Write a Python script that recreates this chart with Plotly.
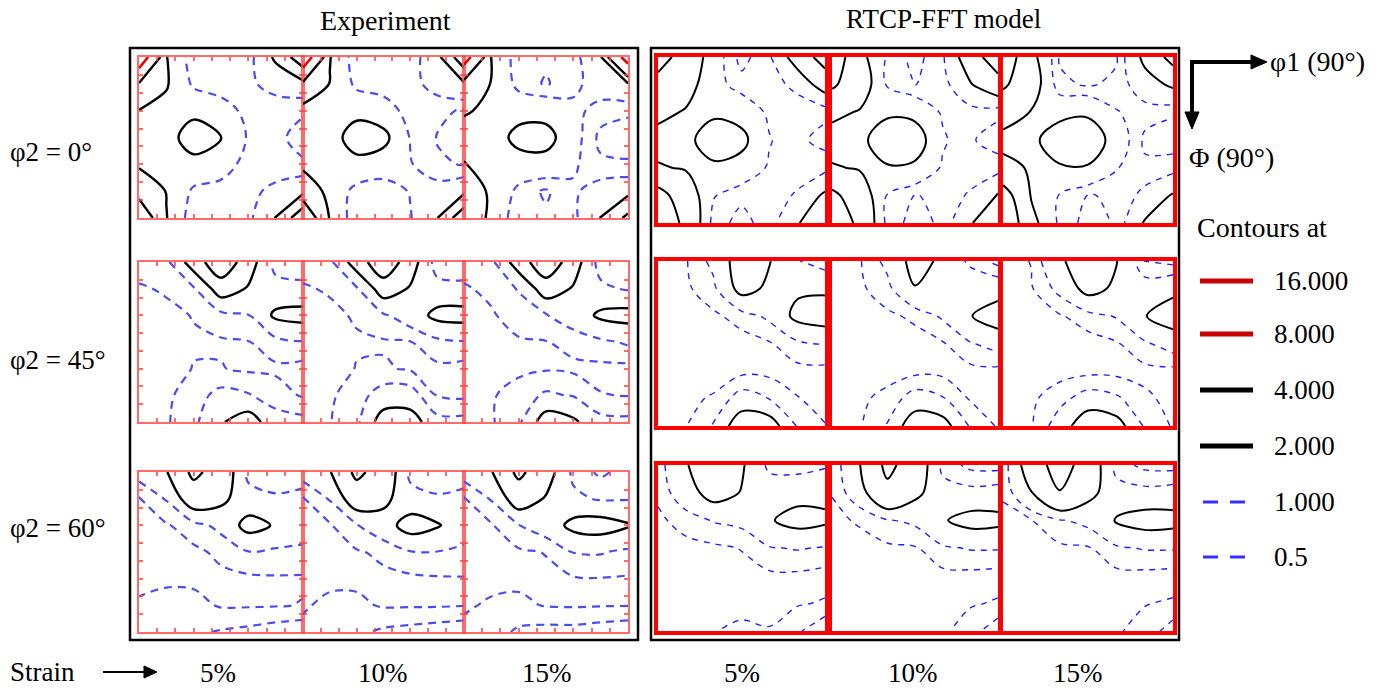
import plotly.graph_objects as go

W, H = 1396, 688

# ---------------- data ----------------
PHI1_DEG = [0, 15, 30, 45, 60, 75, 90]   # horizontal axis of each ODF section
PHI_DEG = [0, 15, 30, 45, 60, 75, 90]    # vertical axis (downwards)
STRAIN_LABELS = ["5%", "10%", "15%"]
ROW_LABELS = ["φ2 = 0°", "φ2 = 45°", "φ2 = 60°"]
COLUMN_TITLES = ["Experiment", "RTCP-FFT model"]
AXIS_LABELS = ["φ1 (90°)", "Φ (90°)"]
CONTOUR_LEVEL_LABELS = ["16.000", "8.000", "4.000", "2.000", "1.000", "0.5"]

# ODF intensity read from the sections (rows = Phi 0..90, cols = phi1 0..90)
EXP_PHI2_0_S5 = [
    [11.0, 2.05, 0.55, 0.6, 0.7, 2.2, 5.5],
    [3.8, 2.1, 0.85, 0.6, 0.85, 1.3, 1.5],
    [1.95, 1.7, 1.75, 1.4, 0.75, 0.6, 0.55],
    [1.6, 1.6, 2.5, 2.05, 0.9, 0.6, 0.35],
    [1.8, 1.6, 1.7, 1.4, 0.7, 0.6, 0.55],
    [3.2, 1.95, 0.85, 0.7, 0.8, 1.2, 1.6],
    [6.0, 2.05, 0.5, 0.6, 0.8, 2.05, 5.5]]
EXP_PHI2_0_S10 = [
    [11.0, 2.05, 0.55, 0.65, 0.7, 1.5, 5.5],
    [3.5, 1.95, 0.8, 0.65, 0.75, 1.3, 1.8],
    [1.5, 1.5, 1.7, 1.4, 0.7, 0.6, 0.45],
    [1.4, 1.55, 2.5, 2.3, 0.95, 0.48, 0.35],
    [1.7, 1.5, 1.7, 1.5, 1.05, 0.55, 0.48],
    [3.0, 1.6, 0.75, 0.6, 1.05, 1.3, 1.6],
    [6.0, 1.9, 0.5, 0.55, 0.95, 1.95, 5.5]]
EXP_PHI2_0_S15 = [
    [10.0, 1.95, 0.6, 0.6, 0.7, 1.9, 10.0],
    [3.0, 1.95, 0.75, 0.45, 0.8, 1.4, 1.9],
    [2.1, 1.8, 1.65, 1.6, 1.2, 0.75, 0.57],
    [1.6, 1.5, 2.3, 2.4, 1.3, 0.35, 0.3],
    [2.05, 1.6, 1.6, 1.6, 1.1, 0.6, 0.55],
    [2.8, 1.8, 0.8, 0.42, 0.9, 1.3, 1.5],
    [3.5, 1.6, 0.6, 0.6, 0.8, 2.05, 4.5]]

EXP_PHI2_45_S5 = [
    [0.7, 0.8, 2.6, 6.0, 2.6, 0.7, 0.6],
    [0.45, 0.55, 0.9, 2.6, 1.9, 1.3, 1.2],
    [0.35, 0.4, 0.52, 0.75, 0.97, 2.2, 2.4],
    [0.3, 0.3, 0.45, 0.45, 0.48, 0.75, 0.95],
    [0.3, 0.3, 0.52, 0.52, 0.42, 0.42, 0.3],
    [0.3, 0.4, 0.75, 1.2, 1.05, 0.7, 0.45],
    [0.3, 0.45, 0.8, 1.9, 2.6, 1.3, 1.2]]
EXP_PHI2_45_S10 = [
    [0.7, 0.8, 2.6, 6.0, 2.6, 0.6, 0.55],
    [0.45, 0.55, 0.9, 2.6, 1.9, 1.3, 1.2],
    [0.35, 0.4, 0.55, 0.9, 1.4, 2.3, 2.4],
    [0.3, 0.3, 0.45, 0.45, 0.48, 0.8, 0.95],
    [0.3, 0.3, 0.52, 0.55, 0.45, 0.4, 0.3],
    [0.3, 0.42, 0.75, 1.3, 1.3, 0.48, 0.4],
    [0.3, 0.48, 0.8, 2.6, 2.6, 1.2, 1.2]]
EXP_PHI2_45_S15 = [
    [0.7, 0.8, 2.6, 6.0, 2.6, 0.6, 0.5],
    [0.45, 0.6, 1.05, 2.6, 1.9, 1.2, 0.9],
    [0.35, 0.45, 0.7, 0.95, 1.4, 2.2, 2.4],
    [0.3, 0.3, 0.45, 0.48, 0.65, 0.85, 1.1],
    [0.3, 0.3, 0.4, 0.45, 0.4, 0.38, 0.35],
    [0.3, 0.45, 0.7, 1.1, 0.95, 0.52, 0.48],
    [0.3, 0.45, 0.85, 2.6, 2.2, 1.2, 1.15]]

EXP_PHI2_60_S5 = [
    [1.3, 1.9, 4.5, 3.0, 0.8, 0.6, 0.7],
    [0.45, 1.05, 2.8, 2.3, 1.3, 1.1, 1.2],
    [0.35, 0.45, 0.75, 1.2, 2.4, 1.9, 1.5],
    [0.3, 0.3, 0.4, 0.6, 0.97, 0.85, 0.8],
    [0.4, 0.4, 0.4, 0.4, 0.4, 0.45, 0.45],
    [0.55, 0.7, 0.65, 0.45, 0.45, 0.47, 0.52],
    [0.7, 0.8, 0.9, 1.05, 1.15, 1.3, 1.4]]
EXP_PHI2_60_S10 = [
    [1.3, 1.9, 4.5, 3.0, 0.8, 0.55, 0.7],
    [0.45, 1.05, 2.8, 2.3, 1.3, 1.1, 1.2],
    [0.35, 0.45, 0.95, 1.5, 2.5, 2.1, 1.4],
    [0.3, 0.3, 0.45, 0.6, 0.95, 0.98, 0.85],
    [0.4, 0.4, 0.4, 0.4, 0.4, 0.45, 0.47],
    [0.45, 0.6, 0.6, 0.45, 0.45, 0.45, 0.48],
    [0.6, 0.8, 0.9, 1.1, 1.2, 1.3, 1.4]]
EXP_PHI2_60_S15 = [
    [1.3, 1.9, 4.5, 2.6, 0.8, 0.4, 0.7],
    [0.45, 1.05, 2.7, 1.9, 1.2, 0.9, 0.95],
    [0.35, 0.45, 0.97, 1.4, 2.3, 2.5, 2.1],
    [0.3, 0.3, 0.42, 0.52, 1.02, 1.05, 0.85],
    [0.35, 0.4, 0.4, 0.4, 0.45, 0.48, 0.45],
    [0.45, 0.55, 0.6, 0.47, 0.45, 0.47, 0.48],
    [0.6, 0.75, 1.1, 1.2, 1.2, 1.3, 1.4]]

MOD_PHI2_0_S5 = [
    [5.0, 3.0, 1.4, 0.3, 0.9, 2.6, 5.0],
    [3.2, 2.5, 1.3, 0.7, 0.7, 1.2, 2.6],
    [2.3, 1.9, 1.8, 1.6, 0.85, 0.6, 0.6],
    [1.6, 1.7, 2.6, 2.3, 1.05, 0.6, 0.35],
    [2.1, 1.9, 1.8, 1.6, 0.9, 0.6, 0.75],
    [4.8, 2.8, 1.05, 0.6, 0.6, 1.1, 2.2],
    [6.0, 3.4, 0.7, 0.35, 0.7, 1.9, 3.0]]
MOD_PHI2_0_S10 = [
    [5.5, 2.4, 0.9, 0.3, 0.9, 2.8, 5.5],
    [4.3, 2.8, 0.9, 0.48, 0.7, 1.9, 3.0],
    [2.3, 1.9, 1.8, 1.7, 0.9, 0.7, 0.6],
    [1.5, 1.7, 2.7, 2.6, 1.1, 0.55, 0.3],
    [2.1, 1.9, 1.9, 1.8, 0.9, 0.6, 0.7],
    [4.5, 2.8, 0.95, 0.48, 0.6, 1.1, 2.1],
    [6.0, 3.4, 0.78, 0.3, 0.6, 1.9, 3.0]]
MOD_PHI2_0_S15 = [
    [5.5, 2.4, 0.45, 0.25, 0.45, 2.3, 4.8],
    [4.3, 2.7, 0.6, 0.45, 0.6, 1.5, 2.2],
    [2.5, 1.95, 1.7, 1.8, 1.05, 0.7, 0.55],
    [1.7, 1.75, 2.6, 2.8, 1.5, 0.4, 0.3],
    [2.3, 1.9, 1.9, 1.9, 1.05, 0.6, 0.7],
    [5.0, 1.9, 0.95, 0.48, 0.55, 1.2, 2.1],
    [6.0, 2.4, 0.85, 0.3, 0.55, 2.1, 3.0]]

MOD_PHI2_45_S5 = [
    [0.3, 0.45, 1.2, 2.6, 2.05, 1.05, 0.6],
    [0.3, 0.4, 0.85, 2.4, 1.8, 1.8, 1.8],
    [0.25, 0.3, 0.4, 0.7, 1.15, 2.3, 2.6],
    [0.25, 0.25, 0.25, 0.3, 0.45, 0.85, 1.02],
    [0.25, 0.25, 0.3, 0.35, 0.35, 0.35, 0.35],
    [0.3, 0.4, 0.55, 1.3, 0.98, 0.52, 0.35],
    [0.3, 0.48, 1.05, 2.8, 2.6, 0.95, 0.52]]
MOD_PHI2_45_S10 = [
    [0.3, 0.45, 1.2, 2.4, 1.8, 0.8, 0.3],
    [0.3, 0.4, 0.8, 1.95, 1.7, 1.7, 1.5],
    [0.25, 0.3, 0.4, 0.6, 1.1, 1.95, 2.6],
    [0.25, 0.25, 0.25, 0.3, 0.45, 0.95, 1.3],
    [0.25, 0.25, 0.3, 0.35, 0.35, 0.35, 0.35],
    [0.3, 0.4, 0.65, 1.3, 1.05, 0.45, 0.3],
    [0.3, 0.45, 1.05, 2.8, 2.5, 0.9, 0.45]]
MOD_PHI2_45_S15 = [
    [0.3, 0.52, 1.9, 2.4, 2.05, 0.45, 0.3],
    [0.3, 0.45, 1.2, 2.4, 1.8, 1.4, 1.7],
    [0.25, 0.3, 0.45, 0.75, 1.05, 1.95, 2.6],
    [0.25, 0.25, 0.25, 0.3, 0.45, 0.9, 1.35],
    [0.25, 0.25, 0.3, 0.35, 0.35, 0.35, 0.35],
    [0.3, 0.4, 0.8, 1.3, 1.1, 0.6, 0.35],
    [0.3, 0.45, 1.35, 2.9, 2.5, 0.9, 0.45]]

MOD_PHI2_60_S5 = [
    [0.7, 1.9, 3.0, 2.15, 0.8, 0.7, 0.9],
    [0.6, 1.5, 2.5, 1.95, 1.5, 1.6, 1.7],
    [0.4, 0.7, 1.05, 1.2, 1.9, 2.4, 2.2],
    [0.3, 0.35, 0.4, 0.52, 0.95, 1.05, 0.95],
    [0.3, 0.3, 0.3, 0.35, 0.4, 0.4, 0.3],
    [0.3, 0.3, 0.3, 0.35, 0.4, 0.45, 0.55],
    [0.3, 0.3, 0.48, 0.6, 0.52, 0.9, 1.5]]
MOD_PHI2_60_S10 = [
    [0.55, 1.95, 4.5, 3.0, 0.8, 0.35, 0.3],
    [0.52, 1.5, 3.5, 2.3, 1.3, 1.2, 1.3],
    [0.4, 0.55, 0.95, 1.15, 1.9, 2.4, 2.3],
    [0.3, 0.35, 0.4, 0.45, 0.9, 1.05, 1.05],
    [0.3, 0.3, 0.3, 0.35, 0.35, 0.35, 0.3],
    [0.3, 0.3, 0.3, 0.3, 0.35, 0.45, 0.55],
    [0.3, 0.3, 0.3, 0.3, 0.4, 0.75, 1.4]]
MOD_PHI2_60_S15 = [
    [0.6, 2.8, 5.0, 3.0, 0.75, 0.35, 0.3],
    [0.55, 1.95, 3.9, 2.4, 1.3, 1.2, 1.3],
    [0.4, 0.48, 0.95, 1.2, 2.1, 2.5, 2.4],
    [0.3, 0.35, 0.4, 0.45, 0.9, 1.05, 1.05],
    [0.3, 0.3, 0.3, 0.35, 0.35, 0.35, 0.3],
    [0.3, 0.3, 0.3, 0.3, 0.35, 0.48, 0.55],
    [0.3, 0.3, 0.3, 0.3, 0.45, 0.65, 1.3]]

EXP_GRIDS = [[EXP_PHI2_0_S5, EXP_PHI2_0_S10, EXP_PHI2_0_S15],
             [EXP_PHI2_45_S5, EXP_PHI2_45_S10, EXP_PHI2_45_S15],
             [EXP_PHI2_60_S5, EXP_PHI2_60_S10, EXP_PHI2_60_S15]]
MOD_GRIDS = [[MOD_PHI2_0_S5, MOD_PHI2_0_S10, MOD_PHI2_0_S15],
             [MOD_PHI2_45_S5, MOD_PHI2_45_S10, MOD_PHI2_45_S15],
             [MOD_PHI2_60_S5, MOD_PHI2_60_S10, MOD_PHI2_60_S15]]

# ---------------- layout (pixel boxes) ----------------
EXP_X = [(139, 303), (303, 464), (464, 628)]
EXP_Y = [(57, 218), (262, 422), (472, 632)]
MOD_X = [(658, 825), (832, 998), (1003, 1173)]
MOD_Y = [(57, 223), (261, 426), (465, 631)]

FONT = "Liberation Serif"


def fx(px):
    return px / W


def fy(py):
    return 1 - py / H


STYLE = {
    "exp": [(0.5, 1.0, 0.5, "rgb(75,75,240)", 2.2, "8px,6px"),
            (2, 4, 2, "black", 2.4, "solid"),
            (8, 16, 8, "rgb(235,0,0)", 2.6, "solid")],
    "mod": [(0.5, 1.0, 0.5, "rgb(30,30,255)", 1.4, "6px,6px"),
            (2, 4, 2, "black", 2.0, "solid"),
            (8, 16, 8, "rgb(235,0,0)", 2.6, "solid")],
}

fig = go.Figure()
axes = {}
k = 0
for kind, grids, xs, ys in [("exp", EXP_GRIDS, EXP_X, EXP_Y),
                            ("mod", MOD_GRIDS, MOD_X, MOD_Y)]:
    for r in range(3):
        for c in range(3):
            k += 1
            xa = "x" if k == 1 else f"x{k}"
            ya = "y" if k == 1 else f"y{k}"
            for (s, e, sz, col, w, dash) in STYLE[kind]:
                fig.add_trace(go.Contour(
                    x=PHI1_DEG, y=PHI_DEG, z=grids[r][c], xaxis=xa, yaxis=ya,
                    autocontour=False,
                    contours=dict(start=s, end=e, size=sz, coloring="none"),
                    line=dict(color=col, width=w, dash=dash, smoothing=1.0),
                    showscale=False, hoverinfo="skip"))
            x0, x1 = xs[c]
            y0, y1 = ys[r]
            common = dict(showgrid=False, zeroline=False, showticklabels=False,
                          fixedrange=True)
            if kind == "exp":
                border = dict(showline=True, linecolor="rgba(255,70,70,0.8)",
                              linewidth=2, mirror="ticks", ticks="inside",
                              ticklen=4, tickwidth=1.5,
                              tickcolor="rgba(255,70,70,0.8)", tick0=0, dtick=10)
            else:
                border = dict(showline=True, linecolor="#ff0000", linewidth=3.5,
                              mirror=True, ticks="")
            axes["xaxis" if k == 1 else f"xaxis{k}"] = dict(
                domain=[fx(x0), fx(x1)], range=[0, 90], anchor=ya, **common, **border)
            axes["yaxis" if k == 1 else f"yaxis{k}"] = dict(
                domain=[fy(y1), fy(y0)], range=[90, 0], anchor=xa, **common, **border)

shapes = [
    dict(type="rect", xref="paper", yref="paper", x0=fx(130), x1=fx(638),
         y0=fy(640), y1=fy(48), line=dict(color="black", width=2.5)),
    dict(type="rect", xref="paper", yref="paper", x0=fx(651), x1=fx(1179),
         y0=fy(640), y1=fy(48), line=dict(color="black", width=2.5)),
]

LEG_Y = [281, 334, 390, 446, 502, 557]
LEG_COL = ["rgb(200,0,0)", "rgb(200,0,0)", "black", "black",
           "rgb(50,50,255)", "rgb(50,50,255)"]
for i, yy in enumerate(LEG_Y):
    if i < 4:
        shapes.append(dict(type="line", xref="paper", yref="paper",
                           x0=fx(1200), x1=fx(1253), y0=fy(yy), y1=fy(yy),
                           line=dict(color=LEG_COL[i], width=5)))
    else:
        for a, b in [(1203, 1218), (1230, 1245)]:
            shapes.append(dict(type="line", xref="paper", yref="paper",
                               x0=fx(a), x1=fx(b), y0=fy(yy), y1=fy(yy),
                               line=dict(color=LEG_COL[i], width=3)))


def seg(xa, ya, xb, yb, w):
    shapes.append(dict(type="line", xref="paper", yref="paper",
                       x0=fx(xa), x1=fx(xb), y0=fy(ya), y1=fy(yb),
                       line=dict(color="black", width=w)))


def tri(pts):
    p = "M " + " L ".join(f"{fx(a):.5f},{fy(b):.5f}" for a, b in pts) + " Z"
    shapes.append(dict(type="path", xref="paper", yref="paper", path=p,
                       fillcolor="black", line=dict(color="black", width=1)))


# strain arrow
seg(103, 672, 146, 672, 2)
tri([(144, 666), (157, 672), (144, 678)])
# phi1 / Phi axis arrows
seg(1190, 62, 1253, 62, 4)
tri([(1251, 55), (1267, 62), (1251, 69)])
seg(1192, 60, 1192, 114, 4)
tri([(1185, 112), (1192, 129), (1199, 112)])

ann = []


def text(t, x, y, size=27, xanchor="center"):
    ann.append(dict(text=t, x=fx(x), y=fy(y), xref="paper", yref="paper",
                    showarrow=False, xanchor=xanchor, yanchor="middle",
                    font=dict(family=FONT, size=size, color="black")))


text(COLUMN_TITLES[0], 385, 21, size=28)
text(COLUMN_TITLES[1], 943, 19)
for i, lab in enumerate(ROW_LABELS):
    text(lab, 8, [152, 360, 528][i], size=27, xanchor="left")
text("Strain", 8, 672, xanchor="left")
for i, s in enumerate(STRAIN_LABELS):
    text(s, [218, 383, 547][i], 673)
    text(s, [742, 913, 1078][i], 673)
text(AXIS_LABELS[0], 1268, 62, size=28, xanchor="left")
text(AXIS_LABELS[1], 1187, 158, size=28, xanchor="left")
text("Contours at", 1195, 227, size=28, xanchor="left")
for i, lab in enumerate(CONTOUR_LEVEL_LABELS):
    text(lab, 1272, LEG_Y[i], xanchor="left")

fig.update_layout(width=W, height=H, margin=dict(l=0, r=0, t=0, b=0),
                  paper_bgcolor="white", plot_bgcolor="white",
                  showlegend=False, shapes=shapes, annotations=ann, **axes)

fig.write_html("out.html")
